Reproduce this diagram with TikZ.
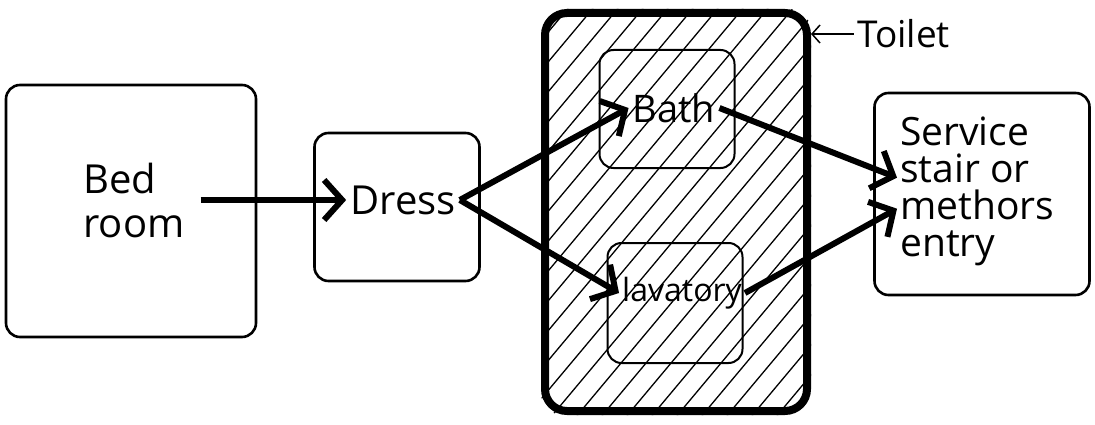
\documentclass[tikz,border=0pt]{standalone}
\usepackage{fontspec}
\setmainfont{Open Sans}
\usetikzlibrary{arrows.meta,backgrounds}
\begin{document}
\begin{tikzpicture}[x=1pt,y=-1pt,
  room/.style={draw, line width=2.6pt, rounded corners=14pt, inner sep=0pt},
  lbl/.style={inner sep=4pt, font=\fontsize{40}{44}\selectfont, align=left},
  conn/.style={line width=6pt, -{Straight Barb[length=18pt,width=40pt,line width=6pt]}},
  hatch/.style={line width=1.3pt}]
\useasboundingbox (0,0) rectangle (1095,425);
% boxes
\node[room, minimum width=250pt, minimum height=252pt] (bed) at (131,211) {};
\node[room, minimum width=165pt, minimum height=148pt] (dress) at (397,207) {};
\node[room, minimum width=215pt, minimum height=202pt] (service) at (982,194) {};
\node[draw, line width=8pt, rounded corners=22pt, inner sep=0pt,
      minimum width=262pt, minimum height=398pt] (toilet) at (676,212) {};
\node[room, line width=2pt, minimum width=135pt, minimum height=118pt] (bath) at (667,109) {};
\node[room, line width=2pt, minimum width=135pt, minimum height=120pt] (lav) at (675,303) {};
% hatching
\begin{scope}[on background layer]
  \clip[rounded corners=22pt] (toilet.north west) rectangle (toilet.south east);
  \foreach \k in {-11,...,15} \draw[hatch] (440+\k*25,430) -- ++(360,-430);
\end{scope}
% texts
\node[lbl, inner sep=16pt] (bedtext) at (134,200) {Bed\\room};
\node[lbl] (dresstext) at (403,200) {Dress};
\node[lbl, font=\fontsize{38}{40}\selectfont, inner sep=4pt] (bathtext) at (674,108) {Bath};
\node[lbl, font=\fontsize{32}{34}\selectfont, inner sep=3pt] (lavtext) at (682,293) {lavatory};
\node[lbl, font=\fontsize{39}{37}\selectfont, anchor=north west, inner sep=3pt] (servicetext) at (897,114) {Service\\stair or\\methors\\entry};
\node[font=\fontsize{37}{40}\selectfont, anchor=west, inner sep=3pt] (toiletlabel) at (854,34) {Toilet};
% connectors
\draw[conn] (bedtext.east) -- (dresstext.west);
\draw[conn] (dresstext.east) -- (bathtext.west);
\draw[conn] (dresstext.east) -- (lavtext.west);
\draw[conn] (bathtext.east) -- ([yshift=14pt]servicetext.west);
\draw[conn] (lavtext.east) -- ([yshift=-17pt]servicetext.west);
\draw[line width=1.5pt, {Straight Barb[length=8pt,width=18pt]}-] (toilet.east |- toiletlabel.west) -- (toiletlabel.west);
\end{tikzpicture}
\end{document}
